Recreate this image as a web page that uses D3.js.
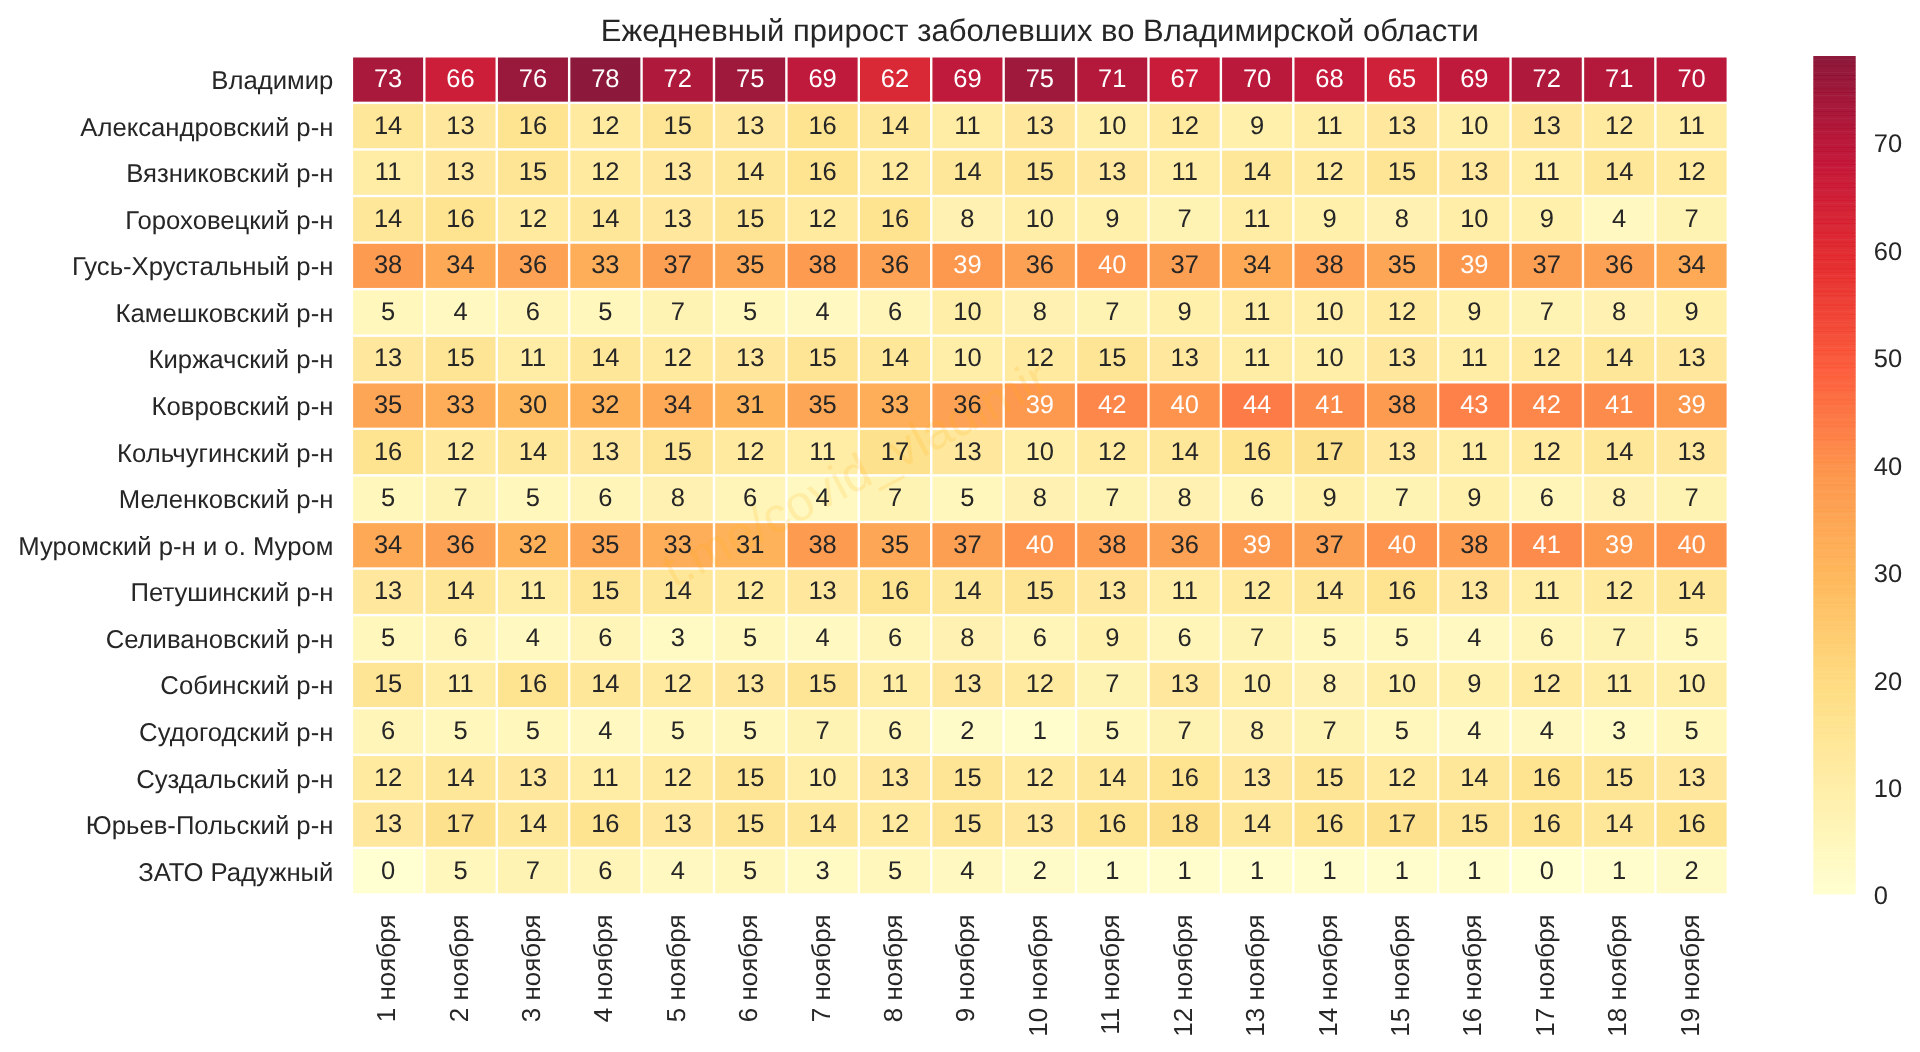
<!DOCTYPE html>
<html>
<head>
<meta charset="utf-8">
<script src="https://cdn.jsdelivr.net/npm/d3@7"></script>
<style>
  html, body { margin: 0; padding: 0; background: #fff; overflow: hidden; }
  svg { filter: blur(0.45px); }
  text { font-family: "Liberation Sans", Arial, sans-serif; fill: #262626; text-rendering: geometricPrecision; }
</style>
</head>
<body>
<svg id="chart" width="1920" height="1052"></svg>
<script>
// Districts, top to bottom
var districts = ["Владимир", "Александровский р-н", "Вязниковский р-н", "Гороховецкий р-н",
  "Гусь-Хрустальный р-н", "Камешковский р-н", "Киржачский р-н", "Ковровский р-н",
  "Кольчугинский р-н", "Меленковский р-н", "Муромский р-н и о. Муром", "Петушинский р-н",
  "Селивановский р-н", "Собинский р-н", "Судогодский р-н", "Суздальский р-н",
  "Юрьев-Польский р-н", "ЗАТО Радужный"];

var days = ["1 ноября", "2 ноября", "3 ноября", "4 ноября", "5 ноября", "6 ноября", "7 ноября",
  "8 ноября", "9 ноября", "10 ноября", "11 ноября", "12 ноября", "13 ноября", "14 ноября",
  "15 ноября", "16 ноября", "17 ноября", "18 ноября", "19 ноября"];

// New cases per day, one row per district
var vladimir = [73, 66, 76, 78, 72, 75, 69, 62, 69, 75, 71, 67, 70, 68, 65, 69, 72, 71, 70];
var aleksandrov = [14, 13, 16, 12, 15, 13, 16, 14, 11, 13, 10, 12, 9, 11, 13, 10, 13, 12, 11];
var vyazniki = [11, 13, 15, 12, 13, 14, 16, 12, 14, 15, 13, 11, 14, 12, 15, 13, 11, 14, 12];
var gorokhovets = [14, 16, 12, 14, 13, 15, 12, 16, 8, 10, 9, 7, 11, 9, 8, 10, 9, 4, 7];
var gus = [38, 34, 36, 33, 37, 35, 38, 36, 39, 36, 40, 37, 34, 38, 35, 39, 37, 36, 34];
var kameshkovo = [5, 4, 6, 5, 7, 5, 4, 6, 10, 8, 7, 9, 11, 10, 12, 9, 7, 8, 9];
var kirzhach = [13, 15, 11, 14, 12, 13, 15, 14, 10, 12, 15, 13, 11, 10, 13, 11, 12, 14, 13];
var kovrov = [35, 33, 30, 32, 34, 31, 35, 33, 36, 39, 42, 40, 44, 41, 38, 43, 42, 41, 39];
var kolchugino = [16, 12, 14, 13, 15, 12, 11, 17, 13, 10, 12, 14, 16, 17, 13, 11, 12, 14, 13];
var melenki = [5, 7, 5, 6, 8, 6, 4, 7, 5, 8, 7, 8, 6, 9, 7, 9, 6, 8, 7];
var murom = [34, 36, 32, 35, 33, 31, 38, 35, 37, 40, 38, 36, 39, 37, 40, 38, 41, 39, 40];
var petushki = [13, 14, 11, 15, 14, 12, 13, 16, 14, 15, 13, 11, 12, 14, 16, 13, 11, 12, 14];
var selivanovo = [5, 6, 4, 6, 3, 5, 4, 6, 8, 6, 9, 6, 7, 5, 5, 4, 6, 7, 5];
var sobinka = [15, 11, 16, 14, 12, 13, 15, 11, 13, 12, 7, 13, 10, 8, 10, 9, 12, 11, 10];
var sudogda = [6, 5, 5, 4, 5, 5, 7, 6, 2, 1, 5, 7, 8, 7, 5, 4, 4, 3, 5];
var suzdal = [12, 14, 13, 11, 12, 15, 10, 13, 15, 12, 14, 16, 13, 15, 12, 14, 16, 15, 13];
var yuryev = [13, 17, 14, 16, 13, 15, 14, 12, 15, 13, 16, 18, 14, 16, 17, 15, 16, 14, 16];
var raduzhny = [0, 5, 7, 6, 4, 5, 3, 5, 4, 2, 1, 1, 1, 1, 1, 1, 0, 1, 2];

var rows = [vladimir, aleksandrov, vyazniki, gorokhovets, gus, kameshkovo, kirzhach, kovrov,
  kolchugino, melenki, murom, petushki, selivanovo, sobinka, sudogda, suzdal, yuryev, raduzhny];

var colorTicks = [0, 10, 20, 30, 40, 50, 60, 70];
var titleText = "Ежедневный прирост заболевших во Владимирской области";
var watermark = "t.me/covid_vladimir";

// YlOrRd colour stops
var ylOrRd = ["#ffffcc", "#ffeda0", "#fed976", "#feb24c", "#fd8d3c", "#fc4e2a", "#e31a1c", "#bd0026", "#800026"];

var svg = d3.select("#chart");

var x = d3.scaleBand().domain(days).range([351.9, 1727.8]);
var y = d3.scaleBand().domain(districts).range([56.3, 894.5]);

var vmax = d3.max(rows, r => d3.max(r));
var color = d3.scaleLinear()
  .domain(ylOrRd.map((c, i) => i * vmax / (ylOrRd.length - 1)))
  .range(ylOrRd);

var cells = [];
rows.forEach((row, i) => {
  row.forEach((value, j) => {
    cells.push({ district: districts[i], day: days[j], value: value });
  });
});

// Heatmap cells, white grid comes from the inset
var gap = 1.2;
svg.append("g").selectAll("rect")
  .data(cells)
  .join("rect")
  .attr("x", d => x(d.day) + gap)
  .attr("y", d => y(d.district) + gap)
  .attr("width", x.bandwidth() - gap * 2)
  .attr("height", y.bandwidth() - gap * 2)
  .attr("fill", d => color(d.value))
  .attr("fill-opacity", 0.9);

// Faint watermark sits over the cells but under the numbers
svg.append("text")
  .attr("transform", "translate(857,477) rotate(-27.8)")
  .attr("text-anchor", "middle")
  .attr("dominant-baseline", "middle")
  .style("fill", "#ffa500")
  .style("fill-opacity", 0.15)
  .style("font-size", "50px")
  .text(watermark);

// Numbers in the cells
svg.append("g").selectAll("text")
  .data(cells)
  .join("text")
  .attr("x", d => x(d.day) + x.bandwidth() / 2)
  .attr("y", d => y(d.district) + y.bandwidth() / 2 - 0.5)
  .attr("text-anchor", "middle")
  .attr("dominant-baseline", "central")
  .style("font-size", "25.5px")
  .style("fill", d => d.value >= 39 ? "#ffffff" : "#262626")
  .text(d => d.value);

// Left axis
var yAxis = svg.append("g")
  .attr("transform", "translate(351.9,1.2)")
  .call(d3.axisLeft(y).tickSize(0).tickPadding(18.5));
yAxis.select(".domain").remove();
yAxis.selectAll("text").style("font-size", "25.7px");

// Bottom axis with rotated dates
var xAxis = svg.append("g")
  .attr("transform", "translate(0,894.5)")
  .call(d3.axisBottom(x).tickSize(0));
xAxis.select(".domain").remove();
xAxis.selectAll("text")
  .attr("transform", "rotate(-90)")
  .attr("text-anchor", "end")
  .attr("dominant-baseline", "central")
  .attr("x", -20)
  .attr("y", -2)
  .attr("dy", null)
  .style("font-size", "26px");

// Title
svg.append("text")
  .attr("x", (351.9 + 1727.8) / 2)
  .attr("y", 41)
  .attr("text-anchor", "middle")
  .style("font-size", "31px")
  .text(titleText);

// Colour bar, 256 slices like a matplotlib colormap
var barScale = d3.scaleLinear().domain([0, vmax]).range([894, 56]);
var slices = d3.range(256).map(i => i * vmax / 256);
var sliceHeight = barScale(0) - barScale(vmax / 256);

svg.append("g").selectAll("rect")
  .data(slices)
  .join("rect")
  .attr("x", 1813.3)
  .attr("y", d => barScale(d) - sliceHeight)
  .attr("width", 42.4)
  .attr("height", sliceHeight + 0.4)
  .attr("fill", d => color(d + vmax / 512))
  .attr("fill-opacity", 0.9);

var barAxis = svg.append("g")
  .attr("transform", "translate(1855.7,1.8)")
  .call(d3.axisRight(barScale).tickValues(colorTicks).tickSize(0).tickPadding(18));
barAxis.select(".domain").remove();
barAxis.selectAll("text").style("font-size", "25.5px");
</script>
</body>
</html>
